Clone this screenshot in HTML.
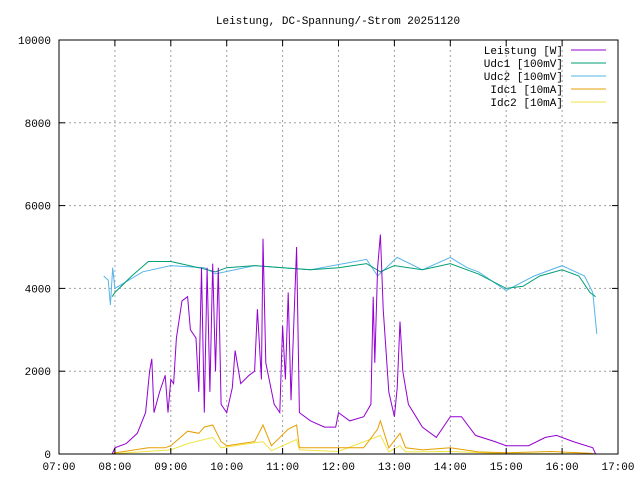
<!DOCTYPE html>
<html><head><meta charset="utf-8"><style>
body{margin:0;background:#fff}
svg text{font-family:"Liberation Mono",monospace;font-size:11px;fill:#000}
</style></head><body>
<svg id="chart" width="640" height="480" xmlns="http://www.w3.org/2000/svg">
<rect width="640" height="480" fill="#fff"/>
<text x="338" y="24" text-anchor="middle">Leistung, DC-Spannung/-Strom 20251120</text>
<g id="grid"></g><g id="series"></g><g id="axes"></g><g id="legend"></g>
</svg>
<script>
const xTickLabels=["07:00","08:00","09:00","10:00","11:00","12:00","13:00","14:00","15:00","16:00","17:00"];
const yTickLabels=["0","2000","4000","6000","8000","10000"];
const seriesNames=["Leistung [W]","Udc1 [100mV]","Udc2 [100mV]","Idc1 [10mA]","Idc2 [10mA]"];
const seriesColors=["#9400d3","#009e73","#56b4e9","#e69f00","#f0e442"];
const leistungT=[7.95,8.0,8.2,8.4,8.55,8.62,8.66,8.7,8.8,8.9,8.95,9.0,9.05,9.1,9.2,9.3,9.35,9.45,9.5,9.55,9.6,9.65,9.7,9.75,9.8,9.85,9.9,10.0,10.1,10.15,10.25,10.4,10.5,10.55,10.62,10.65,10.7,10.85,10.95,11.0,11.05,11.1,11.15,11.25,11.3,11.5,11.75,11.95,12.0,12.2,12.45,12.58,12.62,12.65,12.7,12.75,12.8,12.9,13.0,13.05,13.1,13.15,13.25,13.5,13.75,14.0,14.2,14.45,14.8,15.0,15.4,15.7,15.9,16.2,16.55,16.6];
const leistungV=[0,150,250,500,1000,2000,2300,1000,1500,1900,1000,1800,1700,2800,3700,3800,3000,2800,1500,4500,1000,4500,1500,4600,2000,4500,1200,1000,1600,2500,1700,1900,2000,3500,1800,5200,2200,1200,1000,3100,1800,3900,1300,5000,1000,800,650,650,1000,800,900,1200,3800,2200,4500,5300,3500,1500,900,1600,3200,2000,1200,650,400,900,900,450,300,200,200,400,450,300,150,0];
const udc1T=[7.95,8.0,8.3,8.6,9.0,9.5,9.8,10.0,10.5,11.0,11.5,12.0,12.5,12.75,13.0,13.5,14.0,14.5,15.0,15.3,15.6,16.0,16.3,16.5,16.6];
const udc1V=[3800,3900,4300,4650,4650,4500,4400,4500,4550,4500,4450,4500,4600,4400,4550,4450,4600,4350,4000,4050,4300,4450,4300,3900,3800];
const udc2T=[7.8,7.88,7.92,7.96,8.0,8.5,9.0,9.6,9.8,10.5,11.5,12.5,12.7,13.05,13.5,14.0,14.3,14.5,15.0,15.5,16.0,16.4,16.55,16.62];
const udc2V=[4300,4200,3600,4500,4000,4400,4550,4500,4350,4550,4450,4700,4300,4750,4450,4750,4500,4400,3950,4300,4550,4300,3900,2900];
const idc1T=[7.95,8.0,8.6,8.9,9.0,9.3,9.5,9.6,9.75,9.9,10.0,10.5,10.65,10.8,11.1,11.25,11.3,11.5,12.0,12.45,12.7,12.75,12.9,13.1,13.2,13.5,14.0,14.5,15.0,15.8,16.5,16.6];
const idc1V=[0,30,150,150,200,550,500,650,700,300,200,300,700,200,600,700,150,150,150,150,600,800,150,500,150,100,150,50,30,60,20,0];
const idc2T=[7.95,8.0,9.0,9.3,9.75,9.9,10.65,10.8,11.25,11.3,12.0,12.75,12.9,13.1,13.2,14.0,15.0,16.5,16.6];
const idc2V=[0,10,100,250,400,150,300,80,350,100,60,450,50,200,50,60,10,5,0];

const L=59,R=618,T=40,B=454;
const xs=h=>L+(h-7)/10*(R-L);
const ys=v=>B-v/10000*(B-T);
const NS="http://www.w3.org/2000/svg";
function mk(tag,attrs,parent){const e=document.createElementNS(NS,tag);for(const k in attrs)e.setAttribute(k,attrs[k]);parent.appendChild(e);return e;}
const grid=document.getElementById('grid'),axes=document.getElementById('axes'),ser=document.getElementById('series'),leg=document.getElementById('legend');
xTickLabels.forEach((t,i)=>{const x=xs(7+i);
 if(i>0&&i<10){const g=mk('line',{x1:x,x2:x,y1:T,y2:B,stroke:'#a0a0a0','stroke-dasharray':'2,3'},grid);
 
 }
 mk('line',{x1:x,x2:x,y1:B,y2:B-6,stroke:'#000'},axes);mk('line',{x1:x,x2:x,y1:T,y2:T+6,stroke:'#000'},axes);
 const tx=mk('text',{x:x,y:B+16,'text-anchor':'middle'},axes);tx.textContent=t;
 
 });
yTickLabels.forEach((t,i)=>{const v=+t,y=ys(v);
 if(i>0&&i<5){const g=mk('line',{x1:L,x2:R,y1:y,y2:y,stroke:'#a0a0a0','stroke-dasharray':'2,3'},grid);
 
 }
 mk('line',{x1:L,x2:L+6,y1:y,y2:y,stroke:'#000'},axes);mk('line',{x1:R,x2:R-6,y1:y,y2:y,stroke:'#000'},axes);
 const tx=mk('text',{x:L-8,y:y+4,'text-anchor':'end'},axes);tx.textContent=t;
 
 });
const frame=mk('rect',{x:L,y:T,width:R-L,height:B-T,fill:'none',stroke:'#000'},axes);


const sets=[[leistungT,leistungV],[udc1T,udc1V],[udc2T,udc2V],[idc1T,idc1V],[idc2T,idc2V]];
const order=[4,3,2,1,0];
order.forEach(i=>{const [t,v]=sets[i];
 const d=t.map((h,j)=>(j?'L':'M')+xs(h).toFixed(1)+','+ys(v[j]).toFixed(1)).join('');
 const p=mk('path',{d:d,fill:'none',stroke:seriesColors[i],'stroke-width':1},ser);
 
 });
seriesNames.forEach((n,i)=>{const y=50+i*13;
 const tx=mk('text',{x:563,y:y+4,'text-anchor':'end'},leg);tx.textContent=n;
 
 
 const ln=mk('line',{x1:571,x2:606,y1:y,y2:y,stroke:seriesColors[i]},leg);
 
 });
</script>
</body></html>
